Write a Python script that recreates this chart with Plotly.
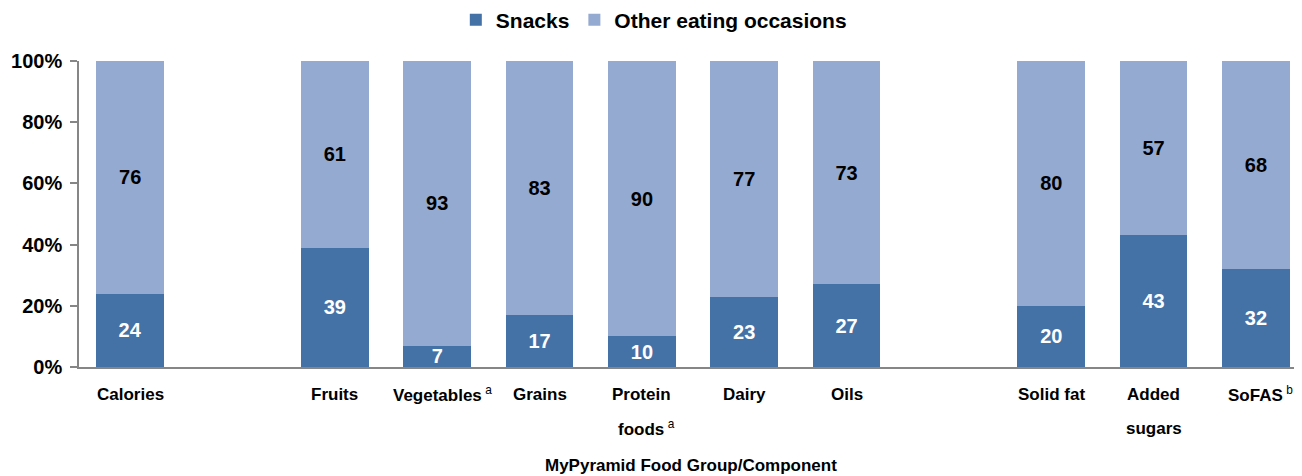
import plotly.graph_objects as go

# ---- data ----
line1 = ["Calories", "Fruits", "Vegetables", "Grains", "Protein", "Dairy", "Oils", "Solid fat", "Added", "SoFAS"]
line2 = ["", "", "", "", "foods", "", "", "", "sugars", ""]
notes = ["", "", "a", "", "a", "", "", "", "", "b"]
groups = [0, 1, 1, 1, 1, 1, 1, 2, 2, 2]
snacks = [24, 39, 7, 17, 10, 23, 27, 20, 43, 32]
other = [76, 61, 93, 83, 90, 77, 73, 80, 57, 68]
y_ticks = [0, 20, 40, 60, 80, 100]

# slot position: index plus one empty slot between groups
xpos = [i + g for i, g in enumerate(groups)]

FONT = "Arial, Liberation Sans, sans-serif"
DARK = "#4472A6"
LIGHT = "#95AAD0"

fig = go.Figure()
fig.add_bar(x=xpos, y=snacks, name="Snacks", marker_color=DARK, width=0.66,
            text=[str(v) for v in snacks], textposition="inside", insidetextanchor="middle",
            textangle=0,
            textfont=dict(color="white", size=20, family=FONT, weight="bold"),
            marker_line_width=0, hoverinfo="skip")
fig.add_bar(x=xpos, y=other, name="Other eating occasions", marker_color=LIGHT, width=0.66,
            text=[str(v) for v in other], textposition="inside", insidetextanchor="middle",
            textangle=0,
            textfont=dict(color="black", size=20, family=FONT, weight="bold"),
            marker_line_width=0, hoverinfo="skip")

def label(main, note):
    t = f"<b>{main}</b>"
    if note:
        t += f"\u2009<sup>{note}</sup>"
    return t

annotations = []
for x, a, b, n in zip(xpos, line1, line2, notes):
    if b:
        annotations.append(dict(x=x, y=0, xref="x", yref="paper", text=label(a, ""),
                                showarrow=False, yanchor="middle", yshift=-27,
                                font=dict(size=17, family=FONT, color="black")))
        annotations.append(dict(x=x, y=0, xref="x", yref="paper", text=label(b, n),
                                showarrow=False, yanchor="middle", yshift=-61,
                                xshift=5 if n else 0,
                                font=dict(size=17, family=FONT, color="black")))
    else:
        annotations.append(dict(x=x, y=0, xref="x", yref="paper", text=label(a, n),
                                showarrow=False, yanchor="middle", yshift=-27,
                                xshift=5 if n else 0,
                                font=dict(size=17, family=FONT, color="black")))

annotations.append(dict(x=0.5, y=0, xref="paper", yref="paper",
                        text="<b>MyPyramid Food Group/Component</b>", showarrow=False,
                        yanchor="middle", yshift=-98,
                        font=dict(size=17, family=FONT, color="black")))

# page body has an 8px margin, so the figure is sized/offset to compensate
fig.update_layout(
    barmode="stack",
    width=1294, height=468,
    margin=dict(l=71, r=0, t=53, b=109, autoexpand=False),
    plot_bgcolor="white", paper_bgcolor="white",
    font=dict(family=FONT, color="black"),
    uniformtext=dict(minsize=20, mode="show"),
    legend=dict(orientation="h", x=0.47, xanchor="center", y=1.134, yanchor="middle",
                font=dict(size=21, family=FONT, weight="bold"), traceorder="normal"),
    annotations=annotations,
    xaxis=dict(range=[-0.5, 11.45], showticklabels=False, ticks="", showgrid=False,
               zeroline=False, showline=True, linecolor="#868686", linewidth=2),
    yaxis=dict(range=[0, 100], tickvals=y_ticks, ticktext=[f"{v}%" for v in y_ticks],
               ticks="outside", ticklen=7, tickcolor="#868686", tickwidth=1.5,
               ticklabelstandoff=4,
               showline=True, linecolor="#868686", linewidth=1.5, showgrid=False,
               zeroline=False, tickfont=dict(size=20, family=FONT, weight="bold")),
)

fig.write_html("out.html")
